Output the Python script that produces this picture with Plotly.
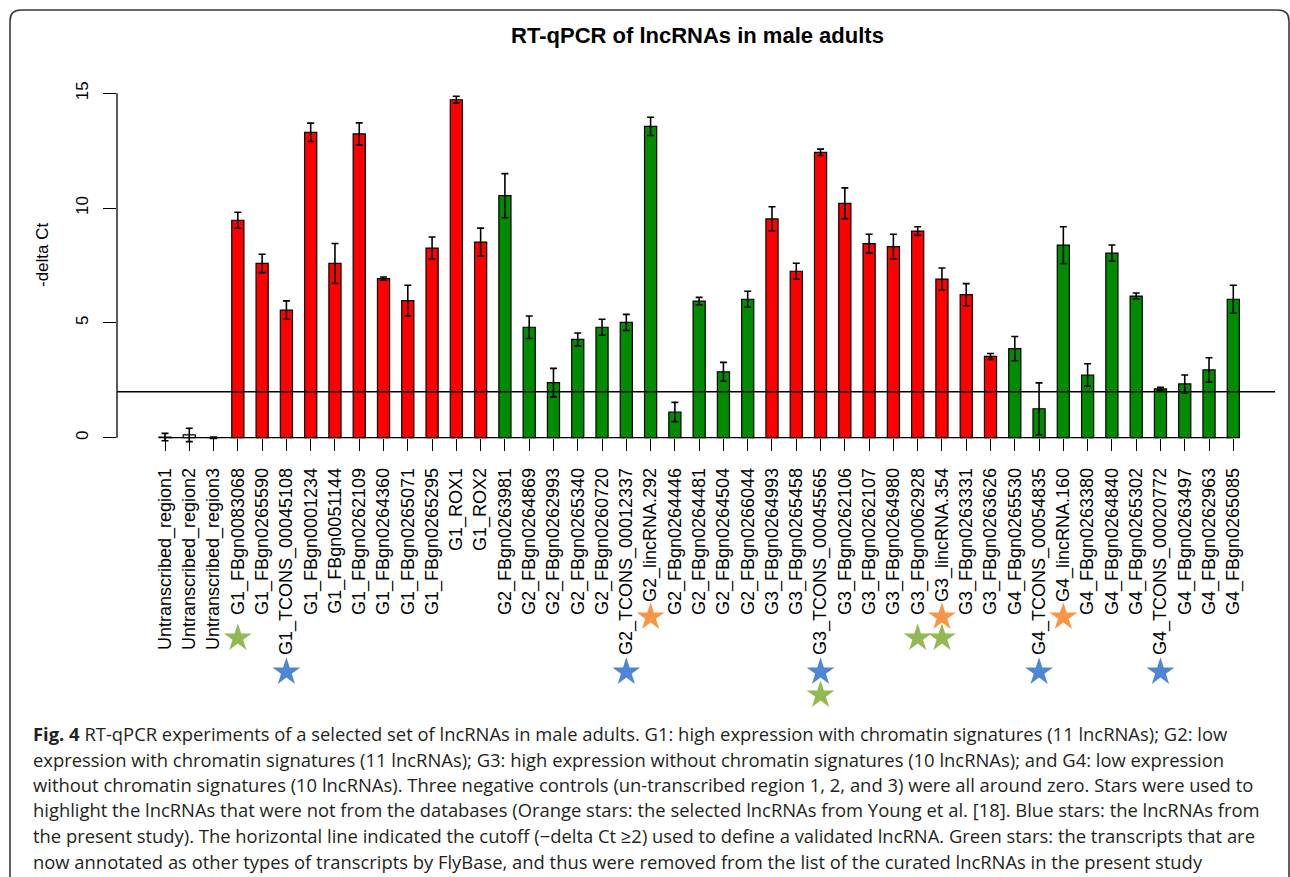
import plotly.graph_objects as go

# ---------------- data ----------------
categories = [
    "Untranscribed_region1", "Untranscribed_region2", "Untranscribed_region3",
    "G1_FBgn0083068", "G1_FBgn0265590", "G1_TCONS_00045108", "G1_FBgn0001234",
    "G1_FBgn0051144", "G1_FBgn0262109", "G1_FBgn0264360", "G1_FBgn0265071",
    "G1_FBgn0265295", "G1_ROX1", "G1_ROX2",
    "G2_FBgn0263981", "G2_FBgn0264869", "G2_FBgn0262993", "G2_FBgn0265340",
    "G2_FBgn0260720", "G2_TCONS_00012337", "G2_lincRNA.292", "G2_FBgn0264446",
    "G2_FBgn0264481", "G2_FBgn0264504", "G2_FBgn0266044",
    "G3_FBgn0264993", "G3_FBgn0265458", "G3_TCONS_00045565", "G3_FBgn0262106",
    "G3_FBgn0262107", "G3_FBgn0264980", "G3_FBgn0062928", "G3_lincRNA.354",
    "G3_FBgn0263331", "G3_FBgn0263626",
    "G4_FBgn0265530", "G4_TCONS_00054835", "G4_lincRNA.160", "G4_FBgn0263380",
    "G4_FBgn0264840", "G4_FBgn0265302", "G4_TCONS_00020772", "G4_FBgn0263497",
    "G4_FBgn0262963", "G4_FBgn0265085",
]
neg_delta_ct = [
    0.03, 0.12, 0.00,
    9.47, 7.59, 5.56, 13.30, 7.59, 13.23, 6.93, 5.97, 8.26, 14.72, 8.52,
    10.54, 4.81, 2.40, 4.28, 4.81, 5.02, 13.56, 1.12, 5.95, 2.87, 6.03,
    9.53, 7.25, 12.43, 10.21, 8.45, 8.32, 9.00, 6.91, 6.23, 3.54,
    3.88, 1.26, 8.39, 2.73, 8.04, 6.17, 2.13, 2.34, 2.95, 6.03,
]
error = [
    0.16, 0.29, 0.03,
    0.35, 0.40, 0.40, 0.40, 0.87, 0.48, 0.07, 0.67, 0.48, 0.15, 0.61,
    0.96, 0.49, 0.62, 0.28, 0.35, 0.35, 0.40, 0.42, 0.16, 0.41, 0.35,
    0.53, 0.35, 0.14, 0.67, 0.41, 0.54, 0.19, 0.48, 0.48, 0.13,
    0.53, 1.13, 0.80, 0.49, 0.35, 0.13, 0.06, 0.39, 0.53, 0.61,
]
cutoff = 2
y_ticks = [0, 5, 10, 15]

star_labels = [
    "G1_FBgn0083068", "G1_TCONS_00045108", "G2_TCONS_00012337", "G2_lincRNA.292",
    "G3_TCONS_00045565", "G3_TCONS_00045565", "G3_FBgn0062928", "G3_lincRNA.354",
    "G3_lincRNA.354", "G4_TCONS_00054835", "G4_lincRNA.160", "G4_TCONS_00020772",
]
star_kinds = [
    "green", "blue", "blue", "orange",
    "blue", "green", "green", "orange",
    "green", "blue", "orange", "blue",
]

title = "RT-qPCR of lncRNAs in male adults"
y_label = "-delta Ct"
caption_lines = [
    "<b>Fig. 4</b> RT-qPCR experiments of a selected set of lncRNAs in male adults. G1: high expression with chromatin signatures (11 lncRNAs); G2: low",
    "expression with chromatin signatures (11 lncRNAs); G3: high expression without chromatin signatures (10 lncRNAs); and G4: low expression",
    "without chromatin signatures (10 lncRNAs). Three negative controls (un-transcribed region 1, 2, and 3) were all around zero. Stars were used to",
    "highlight the lncRNAs that were not from the databases (Orange stars: the selected lncRNAs from Young et al. [18]. Blue stars: the lncRNAs from",
    "the present study). The horizontal line indicated the cutoff (\u2212delta Ct \u22652) used to define a validated lncRNA. Green stars: the transcripts that are",
    "now annotated as other types of transcripts by FlyBase, and thus were removed from the list of the curated lncRNAs in the present study",
]

# ---------------- styling / layout ----------------
W, H = 1290, 877
ML, MR, MT, MB = 117, 15, 56, 157
PW, PH = W - ML - MR, H - MT - MB
BOTTOM = H - MB


def px2x(px):
    return (px - ML) / PW


def py2y(py):
    return (BOTTOM - py) / PH


RED, GREEN = "#FF0000", "#008B00"
STAR_COL = {"orange": "#F79646", "blue": "#4F86D4", "green": "#92B954"}


def bar_color(name):
    if name.startswith("Untranscribed"):
        return "white"
    return RED if name[:2] in ("G1", "G3") else GREEN


colors = [bar_color(c) for c in categories]

# x range in category units (plot region extends beyond bars like R)
first_c, spacing = 165.0, (1233.3 - 165.0) / (len(categories) - 1)
x_range = [(ML - first_c) / spacing, (W - MR - first_c) / spacing]

# y: value 0 at pixel 437.7, 15 at 93.3
px_per_unit = (437.7 - 93.3) / 15
y_lo_px, y_top_px = 452.4, MT
y_range = [-(y_lo_px - 437.7) / px_per_unit, (437.7 - y_top_px) / px_per_unit]
ydom = [py2y(y_lo_px), 1]

fig = go.Figure()
fig.add_trace(go.Bar(
    x=categories, y=neg_delta_ct,
    marker=dict(color=colors, line=dict(color="black", width=1.2)),
    error_y=dict(type="data", array=error, color="black", thickness=1.6, width=3.5),
    showlegend=False, hoverinfo="x+y",
))

# stars beneath the labels
has_blue = {l for l, k in zip(star_labels, star_kinds) if k == "blue"}
ROW_PX = {0: 617, 1: 638, 2: 672, 3: 695}


def star_row(label, kind):
    if kind == "orange":
        return 0
    if kind == "blue":
        return 2
    return 3 if label in has_blue else 1


fig.add_trace(go.Scatter(
    x=star_labels,
    y=[ROW_PX[star_row(l, k)] for l, k in zip(star_labels, star_kinds)],
    mode="markers",
    marker=dict(symbol="star", size=21, color=[STAR_COL[k] for k in star_kinds],
                line=dict(width=0)),
    xaxis="x", yaxis="y2", showlegend=False, hoverinfo="skip", cliponaxis=False,
))

axis_font = dict(family="Liberation Sans, Arial, sans-serif", size=18, color="black")

fig.update_layout(
    width=W, height=H,
    margin=dict(l=ML, r=MR, t=MT, b=MB, pad=0),
    paper_bgcolor="white", plot_bgcolor="white",
    bargap=0.5,
    title=dict(text="<b>" + title + "</b>", x=697.5 / W, xref="container", xanchor="center",
               y=1 - 35 / H, yref="container", yanchor="middle",
               font=dict(family="Liberation Sans, Arial, sans-serif", size=22, color="black")),
    xaxis=dict(
        type="category", categoryorder="array", categoryarray=categories,
        range=x_range, anchor="free", position=py2y(437.7),
        showline=False, showgrid=False, zeroline=False,
        ticks="outside", ticklen=12, tickwidth=1.3, tickcolor="black",
        tickangle=-90, tickfont=axis_font, ticklabelstandoff=10,
        automargin=False, fixedrange=True,
    ),
    yaxis=dict(
        domain=ydom, range=y_range, tickvals=y_ticks,
        showline=False, showgrid=False, zeroline=False,
        ticks="outside", ticklen=13, tickwidth=1.3, tickcolor="black",
        tickangle=-90, tickfont=dict(family="Liberation Sans, Arial, sans-serif", size=17, color="black"),
        ticklabelstandoff=8, automargin=False, fixedrange=True,
    ),
    yaxis2=dict(domain=[0, py2y(600)], range=[BOTTOM, 600], visible=False,
                anchor="x", fixedrange=True),
)

shapes = [
    # R-style y axis line spanning tick range
    dict(type="line", xref="paper", yref="y", x0=0, x1=0, y0=min(y_ticks), y1=max(y_ticks),
         line=dict(color="black", width=1.3)),
    # x axis line from first to last bar
    dict(type="line", xref="x", yref="y", x0=0, x1=len(categories) - 1, y0=0, y1=0,
         line=dict(color="black", width=1.3)),
    # cutoff line across plot region
    dict(type="line", xref="paper", yref="y", x0=0, x1=1, y0=cutoff, y1=cutoff,
         line=dict(color="black", width=1.5)),
]
# rounded frame around figure + caption
fx0, fy0, fx1, fy1, r = 10, 10, 1289, 900, 11
path = (f"M {px2x(fx0)},{py2y(fy1)} L {px2x(fx0)},{py2y(fy0 + r)} "
        f"Q {px2x(fx0)},{py2y(fy0)} {px2x(fx0 + r)},{py2y(fy0)} "
        f"L {px2x(fx1 - r)},{py2y(fy0)} Q {px2x(fx1)},{py2y(fy0)} {px2x(fx1)},{py2y(fy0 + r)} "
        f"L {px2x(fx1)},{py2y(fy1)}")
shapes.append(dict(type="path", xref="paper", yref="paper", path=path,
                   line=dict(color="#3a3a3a", width=1.6)))
fig.update_layout(shapes=shapes)

annotations = [
    dict(text=y_label, xref="paper", yref="paper", x=px2x(43), y=py2y(255),
         textangle=-90, showarrow=False, xanchor="center", yanchor="middle",
         font=dict(family="Liberation Sans, Arial, sans-serif", size=17, color="black")),
]
cap_y = [733, 759, 784.5, 810, 835.5, 861]
for line, yy in zip(caption_lines, cap_y):
    annotations.append(dict(
        text=line, xref="paper", yref="paper", x=px2x(31), y=py2y(yy),
        xanchor="left", yanchor="middle", showarrow=False, align="left",
        font=dict(family="Open Sans, Noto Sans, sans-serif", size=18.4, color="#231F20"),
    ))
fig.update_layout(annotations=annotations)

fig.write_html(
    "out.html",
    config={"displayModeBar": False},
    post_script="document.body.style.margin='0px'; document.body.style.overflow='hidden';",
)
